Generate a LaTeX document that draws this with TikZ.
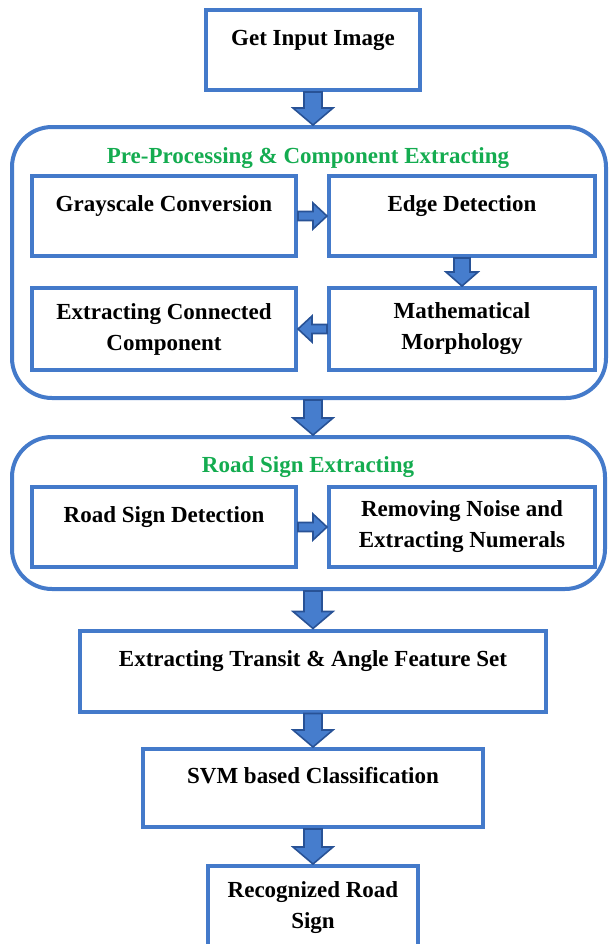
\documentclass[tikz,border=0pt]{standalone}
\usepackage{fontspec}
\setmainfont{Liberation Serif}
\usetikzlibrary{calc}
\definecolor{boxblue}{RGB}{68,122,202}
\definecolor{arrowfill}{RGB}{70,125,205}
\definecolor{arrowline}{RGB}{40,82,150}
\definecolor{titlegreen}{RGB}{20,172,80}
\tikzset{
  blk/.style n args={3}{draw=arrowline, fill=arrowfill, line width=0.8pt, line join=miter,
    to path={($(\tikztostart)!#1!90:(\tikztotarget)$)
      -- ($(\tikztotarget)!#3!(\tikztostart)!#1!-90:(\tikztostart)$)
      -- ($(\tikztotarget)!#3!(\tikztostart)!#2!-90:(\tikztostart)$)
      -- (\tikztotarget)
      -- ($(\tikztotarget)!#3!(\tikztostart)!#2!90:(\tikztostart)$)
      -- ($(\tikztotarget)!#3!(\tikztostart)!#1!90:(\tikztostart)$)
      -- ($(\tikztostart)!#1!-90:(\tikztotarget)$) -- cycle}},
  bigarrow/.style={blk={4.5pt}{10pt}{8.5pt}},
  midarrow/.style={blk={4pt}{8pt}{7pt}},
  sidearrow/.style={blk={2.25pt}{6.5pt}{7pt}}
}
\begin{document}
\begin{tikzpicture}
[x=0.5pt, y=-0.5pt,
 nodes={font=\fontsize{11.5}{15.5}\selectfont\bfseries, align=center, inner sep=0pt},
 box/.style={draw=boxblue, line width=2pt, fill=white},
 onerow/.style={text height=7.6pt, text depth=12pt},
 groupbox/.style={draw=boxblue, line width=2pt, fill=white, rounded corners=20pt},
 heading/.style={text=titlegreen}]
\useasboundingbox (0,0) rectangle (611,944);

\node (get) at (313,50) [box, onerow, minimum width=107pt, minimum height=40pt] {Get Input Image};

\node (pre) at (309,262.5) [groupbox, minimum width=297pt, minimum height=135.5pt] {};
\node (pretitle) at (308,158) [heading] {Pre-Processing \& Component Extracting};
\node (gray) at (164,216) [box, onerow, minimum width=132pt, minimum height=40pt] {Grayscale Conversion};
\node (edge) at (462,216) [box, onerow, minimum width=133pt, minimum height=40pt] {Edge Detection};
\node (conn) at (164,329) [box, minimum width=132pt, minimum height=41pt] {Extracting Connected\\Component};
\node (morph) at (462,329) [box, minimum width=133pt, minimum height=41pt] {Mathematical\\Morphology};

\node (road) at (308.5,513) [groupbox, minimum width=296.5pt, minimum height=76pt] {};
\node (roadtitle) at (308,467) [heading] {Road Sign Extracting};
\node (detect) at (164,527) [box, onerow, minimum width=132pt, minimum height=40pt] {Road Sign Detection};
\node (noise) at (462,527) [box, minimum width=133pt, minimum height=40pt] {Removing Noise and\\Extracting Numerals};

\node (transit) at (313,671) [box, onerow, minimum width=233pt, minimum height=40.5pt] {Extracting Transit \& Angle Feature Set};
\node (svm) at (313,788) [box, onerow, minimum width=170pt, minimum height=39pt] {SVM based Classification};
\node (sign) at (313,908) [box, minimum width=105pt, minimum height=42pt] {Recognized Road\\Sign};

\coordinate (pretop) at (get.south |- pre.north);
\coordinate (prebot) at (get.south |- pre.south);
\coordinate (roadtop) at (get.south |- road.north);
\coordinate (roadbot) at (transit.north |- road.south);

\draw[bigarrow] (get.south) to (pretop);
\draw[sidearrow] (gray.east) to (edge.west);
\draw[midarrow] (edge.south) to (morph.north);
\draw[sidearrow] (morph.west) to (conn.east);
\draw[bigarrow] (prebot) to (roadtop);
\draw[sidearrow] (detect.east) to (noise.west);
\draw[bigarrow] (roadbot) to (transit.north);
\draw[bigarrow] (transit.south) to (svm.north);
\draw[bigarrow] (svm.south) to (sign.north);
\end{tikzpicture}
\end{document}
